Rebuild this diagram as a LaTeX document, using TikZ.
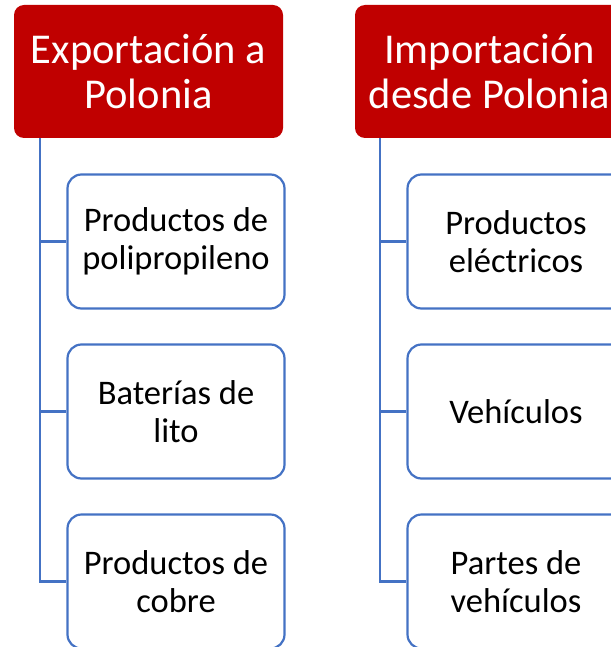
\documentclass[tikz,border=0pt]{standalone}
\usepackage{fontspec}
\setmainfont{Carlito}
\definecolor{hdrred}{HTML}{C00000}
\definecolor{lnblue}{HTML}{4472C4}
\begin{document}
\begin{tikzpicture}[x=1pt,y=-1pt,
  hdr/.style={fill=hdrred,draw=none,rounded corners=10pt,minimum width=269pt,minimum height=133pt,
    text=white,align=center,font=\fontsize{42.5}{45}\selectfont,inner sep=0pt},
  child/.style={fill=white,draw=lnblue,line width=2.2pt,rounded corners=14pt,minimum width=217pt,minimum height=134pt,
    text=black,align=center,font=\fontsize{34.5}{38}\selectfont,inner sep=0pt},
  conn/.style={draw=lnblue,line width=2.2pt}]
\useasboundingbox (0,0) rectangle (610,647);
\node[hdr] (hL) at (148.5,71.5) {Exportación a\\Polonia};
\node[hdr] (hR) at (489.5,71.5) {Importación\\desde Polonia};
\node[child] (l1) at (176,241.5) {Productos de\\polipropileno};
\node[child] (l2) at (176,411.5) {Baterías de\\lito};
\node[child] (l3) at (176,581.5) {Productos de\\cobre};
\node[child] (r1) at (516,241.5) {Productos\\eléctricos};
\node[child] (r2) at (516,411.5) {Vehículos};
\node[child] (r3) at (516,581.5) {Partes de\\vehículos};
\coordinate (tL) at ([xshift=26pt]hL.south west);
\coordinate (tR) at ([xshift=25pt]hR.south west);
\draw[conn] (tL) |- (l3.west);
\draw[conn] (tL) |- (l1.west);
\draw[conn] (tL) |- (l2.west);
\draw[conn] (tR) |- (r3.west);
\draw[conn] (tR) |- (r1.west);
\draw[conn] (tR) |- (r2.west);
\end{tikzpicture}
\end{document}
